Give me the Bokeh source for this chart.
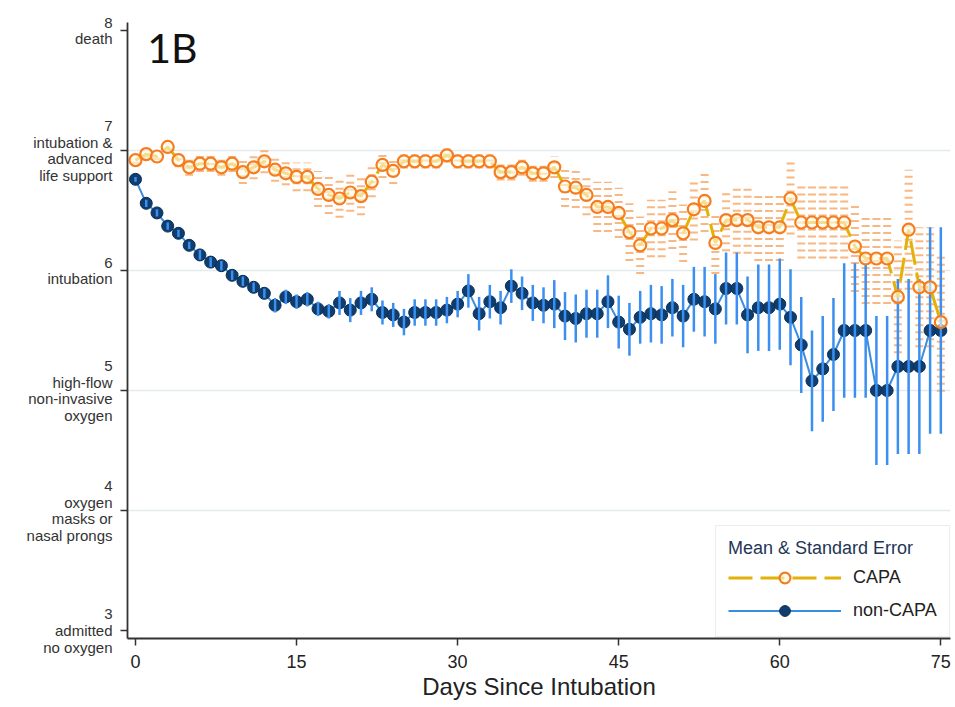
from bokeh.plotting import figure
from bokeh.models import ColumnDataSource, Label, Legend, LegendItem, FixedTicker, Range1d
from bokeh.embed import file_html
from bokeh.resources import INLINE

# ---------------- data ----------------
days = list(range(76))

capa_mean = [6.92, 6.97, 6.95, 7.03, 6.92, 6.86, 6.89, 6.89, 6.86, 6.89,
             6.82, 6.86, 6.91, 6.84, 6.81, 6.78, 6.78, 6.68, 6.63, 6.60,
             6.65, 6.62, 6.74, 6.88, 6.83, 6.91, 6.91, 6.91, 6.91, 6.96,
             6.91, 6.91, 6.91, 6.91, 6.82, 6.82, 6.86, 6.81, 6.81, 6.86,
             6.70, 6.69, 6.63, 6.53, 6.53, 6.48, 6.32, 6.21, 6.35, 6.35,
             6.42, 6.31, 6.51, 6.58, 6.23, 6.42, 6.42, 6.42, 6.36, 6.36,
             6.36, 6.60, 6.40, 6.40, 6.40, 6.40, 6.40, 6.20, 6.10, 6.10,
             6.10, 5.78, 6.34, 5.86, 5.86, 5.57]
capa_se = [0.03, 0.03, 0.03, 0.03, 0.06, 0.07, 0.07, 0.07, 0.07, 0.07,
           0.10, 0.10, 0.10, 0.10, 0.10, 0.12, 0.12, 0.15, 0.16, 0.16,
           0.16, 0.16, 0.13, 0.11, 0.11, 0.06, 0.06, 0.06, 0.06, 0.06,
           0.06, 0.06, 0.06, 0.06, 0.07, 0.07, 0.07, 0.07, 0.07, 0.09,
           0.17, 0.17, 0.17, 0.21, 0.21, 0.21, 0.24, 0.24, 0.24, 0.24,
           0.24, 0.24, 0.26, 0.26, 0.26, 0.26, 0.28, 0.28, 0.28, 0.28,
           0.28, 0.30, 0.30, 0.30, 0.30, 0.30, 0.30, 0.38, 0.38, 0.38,
           0.38, 0.47, 0.50, 0.50, 0.50, 0.58]

noncapa_mean = [6.76, 6.56, 6.48, 6.37, 6.31, 6.21, 6.13, 6.07, 6.04, 5.96,
                5.91, 5.86, 5.81, 5.71, 5.78, 5.74, 5.76, 5.68, 5.66, 5.73,
                5.67, 5.73, 5.76, 5.65, 5.63, 5.57, 5.65, 5.65, 5.65, 5.67,
                5.72, 5.83, 5.64, 5.74, 5.69, 5.87, 5.81, 5.73, 5.71, 5.72,
                5.62, 5.60, 5.64, 5.64, 5.74, 5.57, 5.51, 5.61, 5.64, 5.63,
                5.69, 5.62, 5.76, 5.74, 5.68, 5.85, 5.85, 5.63, 5.69, 5.69,
                5.72, 5.61, 5.38, 5.08, 5.18, 5.30, 5.50, 5.50, 5.50, 5.00,
                5.00, 5.20, 5.20, 5.20, 5.50, 5.50]
noncapa_se = [0.02, 0.03, 0.03, 0.03, 0.03, 0.03, 0.04, 0.04, 0.04, 0.04,
              0.04, 0.04, 0.04, 0.06, 0.06, 0.06, 0.06, 0.06, 0.06, 0.10,
              0.10, 0.10, 0.10, 0.10, 0.10, 0.11, 0.11, 0.11, 0.11, 0.11,
              0.11, 0.14, 0.14, 0.14, 0.14, 0.14, 0.14, 0.15, 0.15, 0.20,
              0.20, 0.20, 0.20, 0.20, 0.22, 0.22, 0.22, 0.22, 0.24, 0.24,
              0.24, 0.26, 0.27, 0.29, 0.29, 0.30, 0.30, 0.32, 0.36, 0.36,
              0.38, 0.40, 0.40, 0.42, 0.44, 0.47, 0.56, 0.56, 0.56, 0.62,
              0.62, 0.73, 0.73, 0.73, 0.86, 0.86]

x_ticks = [0, 15, 30, 45, 60, 75]
y_ticks = [3, 4, 5, 6, 7, 8]
y_grid_ticks = [4, 5, 6, 7]
y_tick_labels = {
    8: ["8", "death"],
    7: ["7", "intubation &", "advanced", "life support"],
    6: ["6", "intubation"],
    5: ["5", "high-flow", "non-invasive", "oxygen"],
    4: ["4", "oxygen", "masks or", "nasal prongs"],
    3: ["3", "admitted", "no oxygen"],
}
panel_label = "1B"
x_title = "Days Since Intubation"
legend_title = "Mean & Standard Error"
series_names = ["CAPA", "non-CAPA"]

# ---------------- sources ----------------
capa_src = ColumnDataSource(dict(
    day=days, mean=capa_mean,
    lo=[m - s for m, s in zip(capa_mean, capa_se)],
    hi=[m + s for m, s in zip(capa_mean, capa_se)]))
nc_src = ColumnDataSource(dict(
    day=days, mean=noncapa_mean,
    lo=[m - s for m, s in zip(noncapa_mean, noncapa_se)],
    hi=[m + s for m, s in zip(noncapa_mean, noncapa_se)]))

FONT = "Liberation Sans"

p = figure(width=955, height=707, output_backend="svg", toolbar_location=None,
           x_range=Range1d(-0.745, 75.9), y_range=Range1d(2.933, 8.067),
           min_border_left=127, min_border_right=5, min_border_top=22,
           min_border_bottom=69)
p.outline_line_color = None
p.background_fill_color = "white"
p.border_fill_color = "white"

# grid
p.xgrid.visible = False
p.ygrid.ticker = FixedTicker(ticks=y_grid_ticks)
p.ygrid.grid_line_color = "#e2eaee"
p.ygrid.grid_line_width = 1.5

# axes
for ax in (p.xaxis, p.yaxis):
    ax.axis_line_color = "#333333"
    ax.axis_line_width = 1.8
    ax.major_tick_line_color = "#333333"
    ax.major_tick_line_width = 1.5
    ax.major_tick_in = 0
    ax.major_tick_out = 7
    ax.minor_tick_line_color = None

p.xaxis.ticker = FixedTicker(ticks=x_ticks)
p.xaxis.major_label_text_font = FONT
p.xaxis.major_label_text_font_size = "18px"
p.xaxis.major_label_text_color = "#222222"
p.xaxis.major_label_standoff = 9
p.xaxis.axis_label = x_title
p.xaxis.axis_label_text_font = FONT
p.xaxis.axis_label_text_font_size = "24px"
p.xaxis.axis_label_text_font_style = "normal"
p.xaxis.axis_label_text_color = "#222222"
p.xaxis.axis_label_standoff = 2

p.yaxis.ticker = FixedTicker(ticks=y_ticks)
p.yaxis.major_label_overrides = {v: "\n".join(lines) for v, lines in y_tick_labels.items()}
p.yaxis.major_label_text_font = FONT
p.yaxis.major_label_text_font_size = "15px"
p.yaxis.major_label_text_color = "#333333"
p.yaxis.major_label_text_line_height = 0.98
p.yaxis.major_label_text_align = "right"
p.yaxis.major_label_standoff = 8

# CAPA standard error (stacked dashes)
p.segment(x0="day", y0="lo", x1="day", y1="hi", source=capa_src,
          line_color="#f6a05a", line_alpha=0.75, line_width=8, line_dash="2 5")

# non-CAPA
nc_line = p.line("day", "mean", source=nc_src, line_color="#3b8de0", line_width=2)
nc_pts = p.scatter("day", "mean", source=nc_src, marker="circle", size=12,
                   fill_color="#0f3d6e", line_color="#0a2f57", line_width=1)
p.segment(x0="day", y0="lo", x1="day", y1="hi", source=nc_src,
          line_color="#3a8ff0", line_width=2.5)

# CAPA
capa_line = p.line("day", "mean", source=capa_src, line_color="#e3b20a",
                   line_width=3, line_dash="24 8")
capa_pts = p.scatter("day", "mean", source=capa_src, marker="circle", size=12,
                     fill_color="#fffbe6", fill_alpha=0.6,
                     line_color="#f57c1f", line_width=2.2)

# panel label
p.add_layout(Label(x=1.1, y=7.861, text=panel_label, text_font="Lato",
                   text_font_size="41px", text_baseline="alphabetic",
                   text_color="#111111"))

legend = Legend(items=[LegendItem(label=series_names[0], renderers=[capa_line, capa_pts]),
                       LegendItem(label=series_names[1], renderers=[nc_line, nc_pts])],
                location=(588, 1), title=legend_title,
                title_text_font=FONT, title_text_font_size="18px",
                title_text_font_style="normal", title_text_color="#1f3656",
                label_text_font=FONT, label_text_font_size="18px",
                label_text_color="#222222",
                glyph_width=113, glyph_height=27, label_standoff=12,
                spacing=6, padding=12, title_standoff=5, margin=0,
                border_line_color="#d6dadc", border_line_width=1,
                background_fill_color="white", background_fill_alpha=1)
p.add_layout(legend)

open("out.html", "w").write(file_html(p, INLINE))
